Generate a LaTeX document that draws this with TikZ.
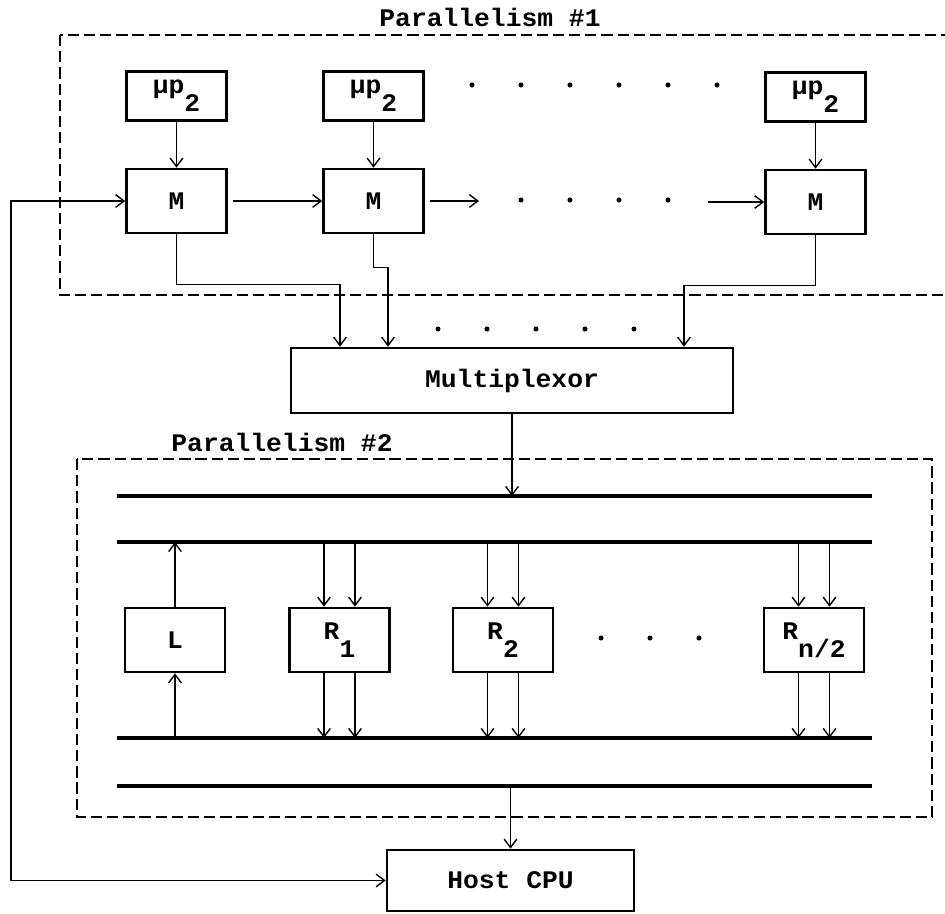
\documentclass[tikz,border=0pt]{standalone}
\usepackage{fontspec}
\setmonofont{Liberation Mono}[FakeStretch=1.04]
\usepackage{tikz}
\usetikzlibrary{arrows.meta,calc}
\newcommand{\lowr}[1]{\raisebox{-0.7em}{#1}}

\begin{document}
\begin{tikzpicture}[x=0.025cm,y=-0.025cm,
  font=\ttfamily\bfseries\fontsize{18}{20}\selectfont,
  >={Straight Barb[length=6pt,width=9pt]},
  unit/.style={draw,line width=1.8pt,inner sep=0pt,minimum width=2.5cm,minimum height=1.6cm},
  proc/.style={unit,minimum height=1.225cm},
  wire/.style={line width=1pt},
  bus/.style={line width=2.6pt},
  frame/.style={line width=1.8pt,dash pattern=on 8pt off 3.5pt}]
\useasboundingbox (0,0) rectangle (945,913);
\clip (0,0) rectangle (945,913);

% parallelism #1
\draw[frame] (60,35) rectangle (990,295);
\node (title1) at (490,17) {Parallelism \#1};

\node[proc] (mp1) at (176.5,96) {\textmu p\lowr{2}};
\node[proc] (mp2) at (373.5,96) {\textmu p\lowr{2}};
\node[proc] (mp3) at (815.5,97) {\textmu p\lowr{2}};

\node[unit] (m1) at (176.5,201) {M};
\node[unit] (m2) at (373.5,201) {M};
\node[unit] (m3) at (815.5,202) {M};

\foreach \x in {472,521,...,717}
  \fill (\x,85) circle (1.8pt);
\foreach \x in {521,570,...,668}
  \fill (\x,200) circle (1.8pt);

\draw[wire,->] (mp1) -- (m1);
\draw[wire,->] (mp2) -- (m2);
\draw[wire,->] (mp3) -- (m3);

\coordinate (gap1) at (479,201);
\coordinate (gap2) at (708,202);
\draw[wire,->,shorten <=4pt] (m1) -- (m2);
\draw[wire,->,shorten <=4pt] (m2.east) -- (gap1);
\draw[wire,->] (gap2) -- (m3.west);

% multiplexor
\node[unit,minimum width=11.05cm,minimum height=1.625cm] (mux) at (512,380.5) {Multiplexor};

\draw[wire,->] (m1.south) -- ++(0,50) -| ($(mux.north)+(-172,0)$);
\draw[wire,->] (m2.south) -- ++(0,33) -| ($(mux.north)+(-124,0)$);
\draw[wire,->] (m3.south) -- ++(0,50) -| ($(mux.north)+(172,0)$);

\foreach \x in {438,487,...,634}
  \fill (\x,329) circle (1.8pt);

% parallelism #2
\draw[frame] (77,459) rectangle (932,817);
\node (title2) at (282,442) {Parallelism \#2};

\coordinate (busA) at (117,496);
\coordinate (busB) at (117,542);
\coordinate (busC) at (117,738);
\coordinate (busD) at (117,786);
\foreach \b in {busA,busB,busC,busD}
  \draw[bus] (\b) -- ++(755,0);

\draw[wire,->] (mux.south) -- (mux.south |- busA);

\node[unit] (l) at (175,640) {L};
\node[unit] (r1) at (339.5,640) {R\lowr{1}};
\node[unit] (r2) at (503,640) {R\lowr{2}};
\node[unit] (rn) at (814,640) {R\lowr{n/2}};

\foreach \x in {601,650,699}
  \fill (\x,638) circle (1.8pt);

\draw[wire,->] (l.north) -- (l.north |- busB);
\draw[wire,->] (l.south |- busC) -- (l.south);

\foreach \r in {r1,r2,rn}
  \foreach \d in {-15.5,15.5} {
    \path (\r.north) ++(\d,0) coordinate (tp);
    \path (\r.south) ++(\d,0) coordinate (bt);
    \draw[wire,->] (tp |- busB) -- (tp);
    \draw[wire,->] (bt) -- (bt |- busC);
  }

% host
\node[unit,minimum width=6.175cm,minimum height=1.525cm] (host) at (510.5,880.5) {Host CPU};
\draw[wire,->] (host.north |- busD) -- (host.north);

\coordinate (fb) at (11,0);
\draw[wire,<->] (m1.west) -- (m1.west -| fb) |- (host.west);
\end{tikzpicture}
\end{document}
